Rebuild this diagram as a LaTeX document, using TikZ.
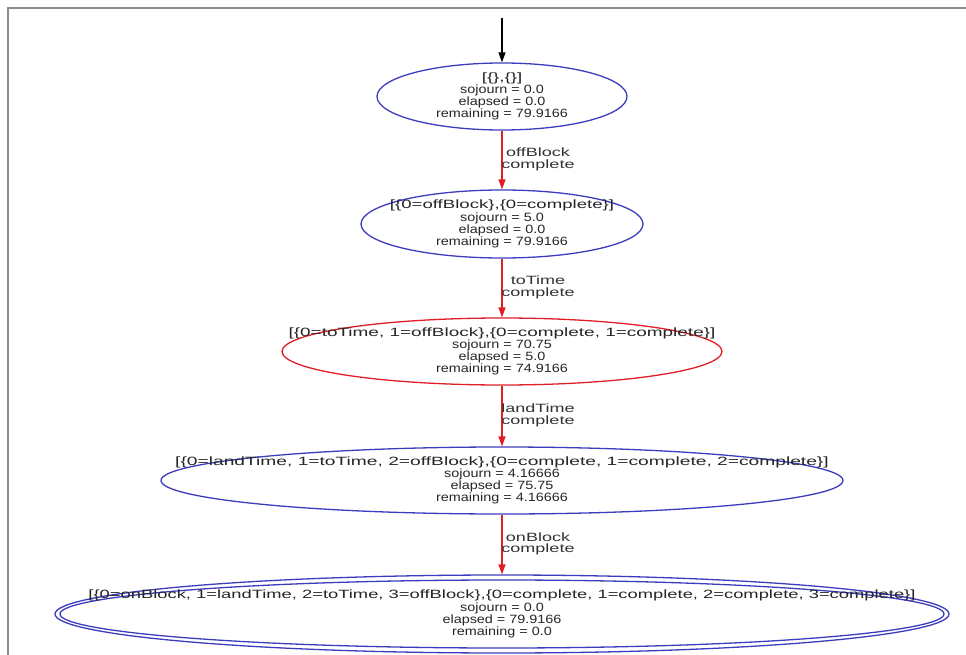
\documentclass[tikz,border=0pt]{standalone}
\usepackage{fontspec}
\setmainfont{Liberation Sans}
\usepackage{graphicx}
\usetikzlibrary{shapes.geometric,arrows.meta}
\definecolor{nodeblue}{RGB}{60,60,190}
\definecolor{edgered}{RGB}{225,30,40}
\definecolor{framegray}{RGB}{140,140,140}
\newcommand{\hdline}[1]{\scalebox{1.55}[1]{#1}}
\newcommand{\stline}[1]{\scalebox{1.2}[1]{#1}}
\newcommand{\lbline}[1]{\scalebox{1.5}[1]{#1}}
\begin{document}
\begin{tikzpicture}[x=1pt,y=-1pt,
  state/.style={ellipse, draw=nodeblue, line width=1.3pt, inner sep=0pt},
  redstate/.style={state, draw=edgered},
  txt/.style={align=center, inner sep=0pt, text=black!85, font=\fontsize{12}{10.5}\selectfont},
  elabel/.style={align=center, inner sep=0pt, text=black!80, font=\fontsize{12}{11.5}\selectfont},
  trans/.style={draw=edgered, line width=1.3pt, -{Triangle[length=10pt,width=7pt]}},
  initarrow/.style={draw=black, line width=1.3pt, -{Triangle[length=10pt,width=7pt]}},
]
\useasboundingbox (0,0) rectangle (966,655);
\fill[white] (0,0) rectangle (966,655);
\draw[framegray, line width=2pt] (8,655) -- (8,8) -- (966,8);

% states
\node[state, minimum width=250pt, minimum height=67pt] (n1) at (502,96.5) {};
\node[txt] (t1) at (n1.center) {\hdline{[\{\},\{\}]}\\\stline{sojourn = 0.0}\\\stline{elapsed = 0.0}\\\stline{remaining = 79.9166}};

\node[state, minimum width=282pt, minimum height=68pt] (n2) at (502,224) {};
\node[txt] (t2) at (n2.center) {\hdline{[\{0=offBlock\},\{0=complete\}]}\\\stline{sojourn = 5.0}\\\stline{elapsed = 0.0}\\\stline{remaining = 79.9166}};

\node[redstate, minimum width=440pt, minimum height=67pt] (n3) at (502,351.5) {};
\node[txt] (t3) at (n3.center) {\scalebox{1.58}[1]{[\{0=toTime, 1=offBlock\},\{0=complete, 1=complete\}]}\\\stline{sojourn = 70.75}\\\stline{elapsed = 5.0}\\\stline{remaining = 74.9166}};

\node[state, minimum width=682pt, minimum height=67pt] (n4) at (502,480.5) {};
\node[txt] (t4) at (n4.center) {\scalebox{1.6}[1]{[\{0=landTime, 1=toTime, 2=offBlock\},\{0=complete, 1=complete, 2=complete\}]}\\\stline{sojourn = 4.16666}\\\stline{elapsed = 75.75}\\\stline{remaining = 4.16666}};

\node[state, minimum width=894pt, minimum height=78pt] (n5) at (502,614) {};
\node[state, minimum width=884pt, minimum height=68pt] (n5i) at (502,614) {};
\node[txt] (t5) at (n5.center) {\scalebox{1.53}[1]{[\{0=onBlock, 1=landTime, 2=toTime, 3=offBlock\},\{0=complete, 1=complete, 2=complete, 3=complete\}]}\\\stline{sojourn = 0.0}\\\stline{elapsed = 79.9166}\\\stline{remaining = 0.0}};

% initial arrow
\coordinate (s) at (502,18);
\draw[initarrow] (s) -- (n1);

% transitions
\draw[trans] (n1) -- (n2);
\draw[trans] (n2) -- (n3);
\draw[trans] (n3) -- (n4);
\draw[trans] (n4) -- (n5);

% edge labels
\node[elabel] (l1) at (538,159.5) {\lbline{offBlock}\\\lbline{complete}};
\node[elabel] (l2) at (538,287.5) {\lbline{toTime}\\\lbline{complete}};
\node[elabel] (l3) at (538,415.5) {\lbline{landTime}\\\lbline{complete}};
\node[elabel] (l4) at (538,544) {\lbline{onBlock}\\\lbline{complete}};
\end{tikzpicture}
\end{document}
